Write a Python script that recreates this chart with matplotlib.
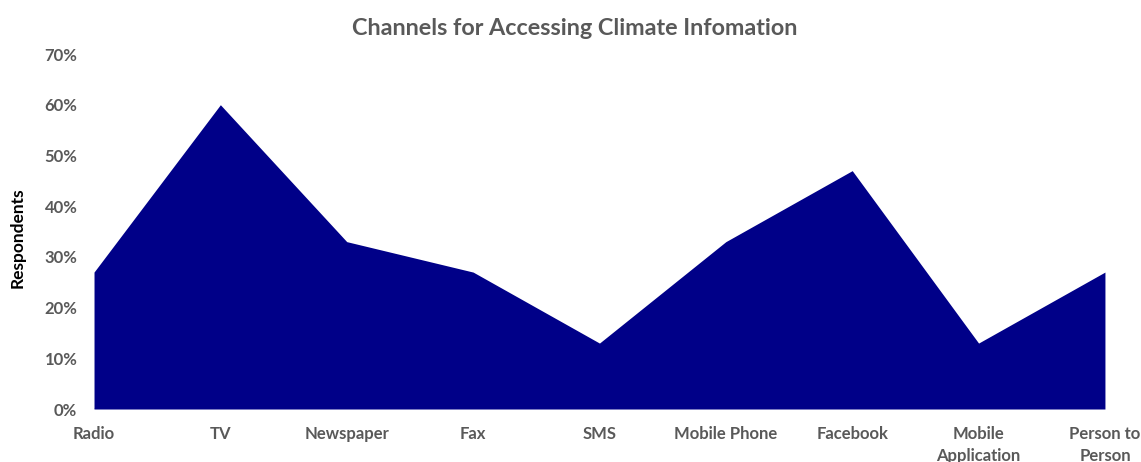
import matplotlib.pyplot as plt
from matplotlib.ticker import PercentFormatter

channels = ['Radio', 'TV', 'Newspaper', 'Fax', 'SMS', 'Mobile Phone',
            'Facebook', 'Mobile\nApplication', 'Person to\nPerson']
share = [27, 60, 33, 27, 13, 33, 47, 13, 27]

plt.rcParams['font.family'] = ['Lato', 'DejaVu Sans']
grey = '#595959'

fig = plt.figure(figsize=(11.41, 4.62), dpi=100)
ax = fig.add_axes([0.0824, 0.1147, 0.886, 0.7684])

x = list(range(len(channels)))
ax.fill_between(x, share, 0, color='#000088', linewidth=0)
ax.axhline(0, color='#d9d9d9', linewidth=1.2, zorder=0)

ax.set_xlim(0, len(channels) - 1)
ax.set_ylim(0, 70)
ax.set_yticks(range(0, 71, 10))
ax.yaxis.set_major_formatter(PercentFormatter(decimals=0))
ax.set_xticks(x)
ax.set_xticklabels(channels, va='top', linespacing=1.45)

ax.tick_params(axis='both', length=0, labelsize=12, labelcolor=grey)
ax.tick_params(axis='y', pad=12)
ax.tick_params(axis='x', pad=12)
for lbl in ax.get_xticklabels() + ax.get_yticklabels():
    lbl.set_fontweight('bold')

for side in ax.spines.values():
    side.set_visible(False)

ax.set_ylabel('Respondents', fontsize=12.5, fontweight='bold', color='black',
              va='center')
ax.yaxis.set_label_coords(-0.076, 0.482)
fig.suptitle('Channels for Accessing Climate Infomation', x=0.504, y=0.96,
             fontsize=16.8, fontweight='bold', color=grey)

fig.savefig('out.png', dpi=100)
